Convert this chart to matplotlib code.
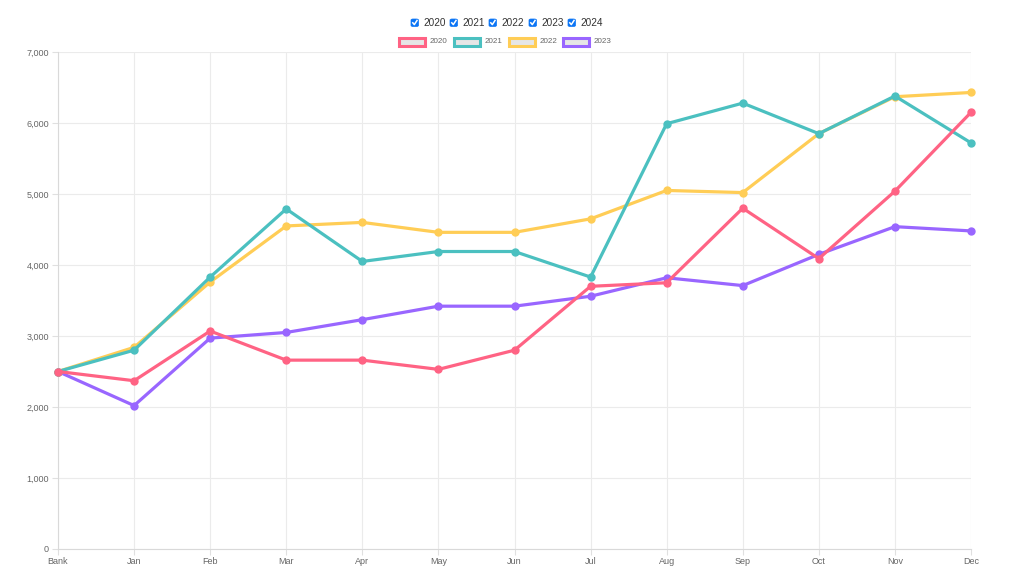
import matplotlib
matplotlib.use("Agg")
import matplotlib.pyplot as plt
from matplotlib.patches import FancyBboxPatch, Rectangle
from matplotlib.lines import Line2D

plt.rcParams['font.family'] = ['Liberation Sans', 'DejaVu Sans']

labels = ["Bank", "Jan", "Feb", "Mar", "Apr", "May", "Jun", "Jul", "Aug", "Sep", "Oct", "Nov", "Dec"]
s2020 = [2500, 2370, 3070, 2660, 2660, 2530, 2800, 3700, 3750, 4800, 4090, 5040, 6150]
s2021 = [2500, 2800, 3830, 4790, 4050, 4190, 4190, 3830, 5990, 6280, 5850, 6380, 5720]
s2022 = [2500, 2840, 3760, 4550, 4600, 4460, 4460, 4650, 5050, 5020, 5850, 6370, 6430]
s2023 = [2500, 2020, 2970, 3050, 3230, 3420, 3420, 3560, 3820, 3710, 4150, 4540, 4480]
series_names = ["2020", "2021", "2022", "2023"]
checkbox_names = ["2020", "2021", "2022", "2023", "2024"]
colors = ["#ff6384", "#4bc0c0", "#ffcd56", "#9966ff"]
yticks = [0, 1000, 2000, 3000, 4000, 5000, 6000, 7000]

W, H = 1024, 566
fig = plt.figure(figsize=(W / 100, H / 100), dpi=100)
ax = fig.add_axes([58 / W, 1 - 549 / H, (971 - 58) / W, (549 - 52) / H])

x = list(range(len(labels)))
data = [s2020, s2021, s2022, s2023]
for i, (vals, c) in enumerate(zip(data, colors)):
    ax.plot(x, vals, color=c, lw=2.3, marker='o', markersize=5, zorder=10 - i,
            solid_joinstyle='miter', clip_on=False)

ax.set_xlim(0, len(labels) - 1)
ax.set_ylim(0, 7000)
ax.set_xticks(x)
ax.set_xticklabels(labels)
ax.set_yticks(yticks)
ax.set_yticklabels([f"{v:,}" for v in yticks])
ax.tick_params(axis='both', colors='#e0e0e0', labelcolor='#666666', labelsize=6.5, length=4, width=0.8)
ax.tick_params(axis='x', pad=1.5)
ax.tick_params(axis='y', pad=2.5)
ax.grid(True, color='#ebebeb', lw=0.8)
ax.set_axisbelow(True)
for sp in ['top', 'right']:
    ax.spines[sp].set_visible(False)
for sp in ['left', 'bottom']:
    ax.spines[sp].set_color('#d9d9d9')
    ax.spines[sp].set_linewidth(0.8)

def fx(px):
    return px / W

def fy(py):
    return 1 - py / H

# Checkboxes row
cb_x = [411, 450, 489, 529, 568]
for name, cx in zip(checkbox_names, cb_x):
    box = FancyBboxPatch((fx(cx), fy(26.5)), 7.5 / W, 7.5 / H,
                         boxstyle="round,pad=0,rounding_size=0.002",
                         transform=fig.transFigure, facecolor='#0b75f5', edgecolor='#0b75f5', lw=0.5)
    fig.add_artist(box)
    fig.add_artist(Line2D([fx(cx + 1.8), fx(cx + 3.3), fx(cx + 6.0)],
                          [fy(22.8), fy(24.6), fy(20.5)], transform=fig.transFigure,
                          color='white', lw=1.1))
    fig.text(fx(cx + 12), fy(23.5), name, fontsize=7.2, color='#333333', va='center', ha='left')

# Chart legend
lg_x = [398, 453, 508, 562]
for name, c, lx in zip(series_names, colors, lg_x):
    fig.add_artist(Rectangle((fx(lx + 1), fy(46)), 26 / W, 8 / H, transform=fig.transFigure,
                             facecolor='#e6e6e6', edgecolor=c, lw=2.2))
    fig.text(fx(lx + 32), fy(41.5), name, fontsize=5.8, color='#666666', va='center', ha='left')

fig.savefig("out.png", dpi=100, facecolor='white')
